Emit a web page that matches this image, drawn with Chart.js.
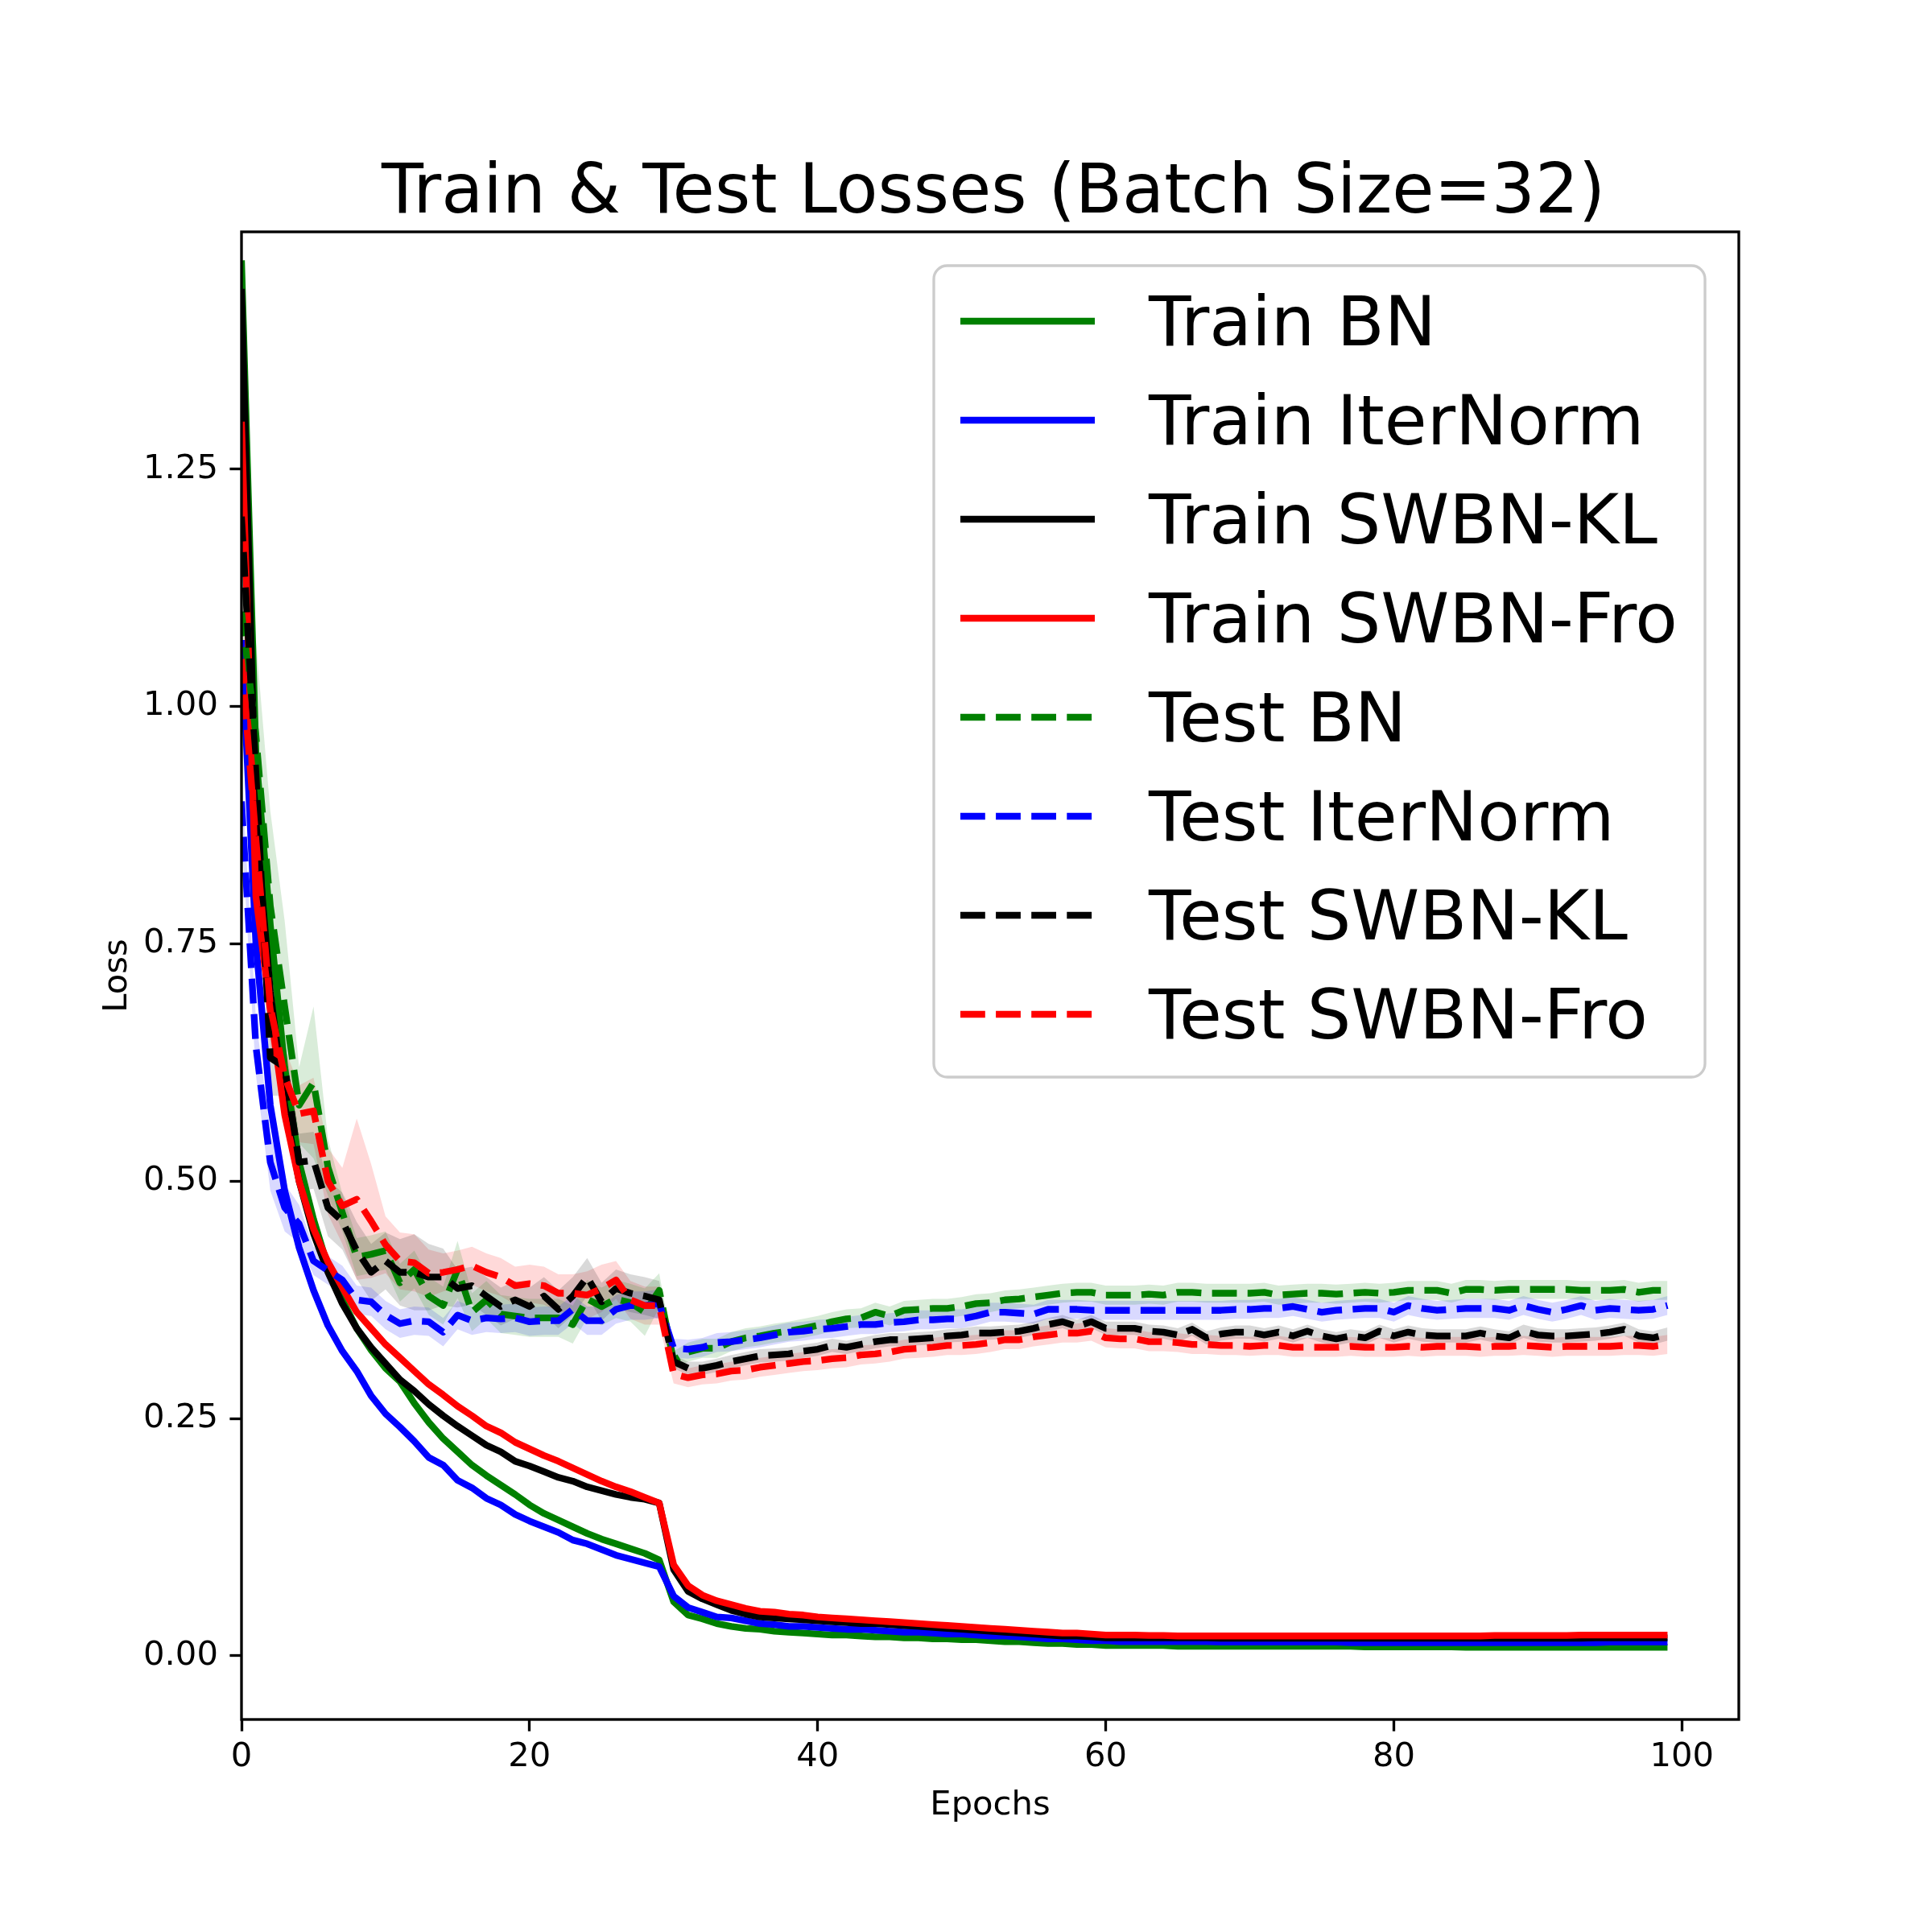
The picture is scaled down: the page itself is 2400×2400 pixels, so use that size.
<!DOCTYPE html>
<html lang="en">
<head>
  <meta charset="UTF-8">
  <title>Train & Test Losses</title>
  <script src="https://cdn.jsdelivr.net/npm/chart.js@4/dist/chart.umd.min.js"></script>
  <style>
    html, body { margin: 0; padding: 0; background: #fff; }
    canvas { display: block; }
  </style>
</head>
<body>
  <canvas id="grafico" width="2400" height="2400" style="width:2400px;height:2400px"></canvas>

  <script>
    // epochs 0..99
    const epochs = Array.from({ length: 100 }, (_, i) => i);
    const xTicks = [0, 20, 40, 60, 80, 100];
    const yTicks = [0, 0.25, 0.5, 0.75, 1.0, 1.25];

    const trainBN = [
      1.47, 0.95, 0.77, 0.62, 0.52, 0.46, 0.41, 0.375, 0.345, 0.322,
      0.303, 0.289, 0.266, 0.246, 0.229, 0.215, 0.201, 0.19, 0.18, 0.17,
      0.159, 0.15, 0.143, 0.136, 0.129, 0.123, 0.118, 0.113, 0.108, 0.101,
      0.057, 0.043, 0.039, 0.034, 0.031, 0.029, 0.028, 0.026, 0.025, 0.024,
      0.023, 0.022, 0.022, 0.021, 0.020, 0.020, 0.019, 0.019, 0.018, 0.018,
      0.017, 0.017, 0.016, 0.015, 0.015, 0.014, 0.013, 0.013, 0.012, 0.012,
      0.011, 0.011, 0.011, 0.011, 0.011, 0.010, 0.010, 0.010, 0.010, 0.010,
      0.010, 0.010, 0.010, 0.010, 0.010, 0.010, 0.010, 0.010, 0.0095, 0.0095,
      0.0095, 0.0095, 0.0095, 0.0095, 0.0095, 0.009, 0.009, 0.009, 0.009, 0.009,
      0.009, 0.009, 0.009, 0.009, 0.009, 0.009, 0.009, 0.009, 0.009, 0.009
    ];
    const trainIterNorm = [
      1.07, 0.75, 0.58, 0.49, 0.43, 0.385, 0.348, 0.321, 0.30, 0.274,
      0.255, 0.241, 0.226, 0.209, 0.201, 0.185, 0.177, 0.166, 0.159, 0.149,
      0.142, 0.136, 0.13, 0.122, 0.118, 0.112, 0.106, 0.102, 0.098, 0.094,
      0.063, 0.051, 0.046, 0.041, 0.040, 0.037, 0.034, 0.033, 0.031, 0.031,
      0.030, 0.029, 0.028, 0.028, 0.027, 0.026, 0.025, 0.025, 0.024, 0.023,
      0.023, 0.022, 0.021, 0.021, 0.020, 0.019, 0.018, 0.018, 0.017, 0.016,
      0.016, 0.015, 0.015, 0.015, 0.015, 0.015, 0.015, 0.015, 0.0145, 0.0145,
      0.0145, 0.0145, 0.0145, 0.0145, 0.0145, 0.0145, 0.0145, 0.014, 0.014, 0.014,
      0.014, 0.014, 0.014, 0.014, 0.014, 0.014, 0.014, 0.014, 0.014, 0.014,
      0.014, 0.014, 0.014, 0.014, 0.014, 0.0145, 0.0145, 0.0145, 0.0145, 0.0145
    ];
    const trainSWBNKL = [
      1.44, 0.88, 0.70, 0.58, 0.50, 0.445, 0.404, 0.371, 0.345, 0.325,
      0.308, 0.291, 0.279, 0.265, 0.253, 0.242, 0.232, 0.222, 0.215, 0.205,
      0.20, 0.194, 0.188, 0.184, 0.178, 0.174, 0.17, 0.167, 0.165, 0.161,
      0.091, 0.068, 0.060, 0.054, 0.048, 0.044, 0.041, 0.040, 0.039, 0.038,
      0.037, 0.036, 0.035, 0.034, 0.034, 0.033, 0.032, 0.031, 0.030, 0.029,
      0.028, 0.027, 0.026, 0.025, 0.024, 0.023, 0.022, 0.021, 0.021, 0.020,
      0.019, 0.019, 0.019, 0.019, 0.019, 0.019, 0.019, 0.019, 0.0185, 0.0185,
      0.0185, 0.0185, 0.0185, 0.0185, 0.0185, 0.0185, 0.0185, 0.0185, 0.0185, 0.0185,
      0.0185, 0.0185, 0.0185, 0.0185, 0.0185, 0.0185, 0.0185, 0.0185, 0.0185, 0.0185,
      0.0185, 0.0185, 0.0185, 0.0185, 0.019, 0.019, 0.019, 0.019, 0.019, 0.019
    ];
    const trainSWBNFro = [
      1.30, 0.80, 0.68, 0.57, 0.50, 0.45, 0.415, 0.388, 0.362, 0.345,
      0.328, 0.314, 0.30, 0.286, 0.275, 0.263, 0.253, 0.242, 0.235, 0.225,
      0.218, 0.211, 0.205, 0.198, 0.191, 0.184, 0.178, 0.173, 0.167, 0.161,
      0.096, 0.074, 0.064, 0.058, 0.054, 0.050, 0.047, 0.046, 0.044, 0.043,
      0.041, 0.040, 0.039, 0.038, 0.037, 0.036, 0.035, 0.034, 0.033, 0.032,
      0.031, 0.030, 0.029, 0.028, 0.027, 0.026, 0.025, 0.024, 0.024, 0.023,
      0.022, 0.022, 0.022, 0.0215, 0.0215, 0.021, 0.021, 0.021, 0.021, 0.021,
      0.021, 0.021, 0.021, 0.021, 0.021, 0.021, 0.021, 0.021, 0.021, 0.021,
      0.021, 0.021, 0.021, 0.021, 0.021, 0.021, 0.021, 0.0215, 0.0215, 0.0215,
      0.0215, 0.0215, 0.0215, 0.022, 0.022, 0.022, 0.022, 0.022, 0.022, 0.022
    ];

    const testBN = [
      1.10, 0.97, 0.79, 0.684, 0.58, 0.604, 0.515, 0.467, 0.42, 0.423,
      0.427, 0.393, 0.407, 0.379, 0.369, 0.407, 0.362, 0.375, 0.36, 0.358,
      0.356, 0.356, 0.356, 0.349, 0.376, 0.368, 0.376, 0.372, 0.362, 0.385,
      0.311, 0.32, 0.324, 0.324, 0.331, 0.335, 0.337, 0.34, 0.342, 0.345,
      0.348, 0.352, 0.355, 0.356, 0.362, 0.358, 0.364, 0.365, 0.366, 0.366,
      0.368, 0.371, 0.372, 0.375, 0.376, 0.378, 0.380, 0.382, 0.383, 0.383,
      0.380, 0.380, 0.380, 0.381, 0.380, 0.383, 0.383, 0.382, 0.382, 0.382,
      0.382, 0.383, 0.380, 0.381, 0.382, 0.382, 0.381, 0.382, 0.383, 0.382,
      0.383, 0.385, 0.385, 0.385, 0.382, 0.386, 0.386, 0.385, 0.386, 0.386,
      0.386, 0.386, 0.386, 0.385, 0.385, 0.385, 0.386, 0.383, 0.385, 0.385
    ];
    const testIterNorm = [
      0.90, 0.642, 0.52, 0.472, 0.455, 0.416, 0.406, 0.396, 0.375, 0.373,
      0.359, 0.35, 0.353, 0.352, 0.341, 0.359, 0.353, 0.356, 0.355, 0.356,
      0.352, 0.353, 0.353, 0.365, 0.353, 0.353, 0.365, 0.369, 0.369, 0.371,
      0.324, 0.323, 0.325, 0.33, 0.331, 0.333, 0.335, 0.338, 0.341, 0.342,
      0.344, 0.345, 0.347, 0.349, 0.349, 0.351, 0.352, 0.354, 0.354, 0.355,
      0.355, 0.358, 0.362, 0.362, 0.361, 0.360, 0.365, 0.365, 0.365, 0.364,
      0.364, 0.364, 0.364, 0.364, 0.364, 0.364, 0.364, 0.364, 0.364, 0.365,
      0.365, 0.366, 0.366, 0.368, 0.365, 0.362, 0.364, 0.365, 0.366, 0.366,
      0.362, 0.369, 0.366, 0.364, 0.365, 0.366, 0.366, 0.366, 0.364, 0.369,
      0.365, 0.362, 0.365, 0.369, 0.364, 0.366, 0.365, 0.364, 0.365, 0.369
    ];
    const testSWBNKL = [
      1.20, 0.93, 0.63, 0.62, 0.52, 0.522, 0.472, 0.458, 0.427, 0.404,
      0.416, 0.404, 0.404, 0.399, 0.399, 0.387, 0.39, 0.379, 0.368, 0.375,
      0.368, 0.379, 0.365, 0.379, 0.399, 0.373, 0.387, 0.382, 0.379, 0.375,
      0.310, 0.303, 0.303, 0.306, 0.31, 0.313, 0.316, 0.317, 0.318, 0.321,
      0.323, 0.327, 0.325, 0.328, 0.331, 0.333, 0.333, 0.334, 0.335, 0.337,
      0.338, 0.34, 0.34, 0.341, 0.342, 0.345, 0.349, 0.352, 0.347, 0.352,
      0.345, 0.345, 0.345, 0.342, 0.341, 0.338, 0.344, 0.335, 0.339, 0.341,
      0.341, 0.338, 0.341, 0.337, 0.342, 0.337, 0.334, 0.337, 0.335, 0.342,
      0.337, 0.341, 0.338, 0.337, 0.337, 0.337, 0.34, 0.337, 0.335, 0.342,
      0.338, 0.337, 0.337, 0.338, 0.339, 0.341, 0.344, 0.337, 0.335, 0.339
    ];
    const testSWBNFro = [
      1.05, 0.86, 0.684, 0.61, 0.571, 0.574, 0.50, 0.474, 0.481, 0.458,
      0.433, 0.416, 0.414, 0.403, 0.404, 0.407, 0.411, 0.404, 0.399, 0.39,
      0.392, 0.39, 0.382, 0.382, 0.38, 0.387, 0.396, 0.375, 0.369, 0.369,
      0.297, 0.293, 0.296, 0.297, 0.30, 0.301, 0.304, 0.306, 0.308, 0.31,
      0.311, 0.313, 0.314, 0.317, 0.318, 0.32, 0.323, 0.324, 0.325, 0.327,
      0.327, 0.328, 0.33, 0.333, 0.333, 0.336, 0.338, 0.34, 0.34, 0.342,
      0.335, 0.334, 0.334, 0.331, 0.331, 0.33, 0.328, 0.328, 0.327, 0.327,
      0.326, 0.327, 0.327, 0.325, 0.325, 0.325, 0.325, 0.326, 0.325, 0.325,
      0.325, 0.326, 0.325, 0.326, 0.326, 0.326, 0.325, 0.326, 0.326, 0.327,
      0.326, 0.325, 0.326, 0.326, 0.326, 0.326, 0.327, 0.327, 0.326, 0.328
    ];

    // half width of the shaded spread around each test curve
    const spreadTestBN = [
      0.05, 0.10, 0.10, 0.09, 0.04, 0.08, 0.03, 0.02, 0.02, 0.02,
      0.02, 0.02, 0.02, 0.02, 0.02, 0.03, 0.02, 0.02, 0.02, 0.02,
      0.02, 0.02, 0.02, 0.02, 0.02, 0.02, 0.02, 0.02, 0.025, 0.018,
      0.01, 0.01, 0.01, 0.01, 0.01, 0.01, 0.01, 0.01, 0.01, 0.01,
      0.01, 0.01, 0.01, 0.01, 0.01, 0.01, 0.01, 0.01, 0.01, 0.01,
      0.01, 0.01, 0.01, 0.01, 0.01, 0.01, 0.01, 0.01, 0.01, 0.01,
      0.01, 0.01, 0.01, 0.01, 0.01, 0.01, 0.01, 0.01, 0.01, 0.01,
      0.01, 0.01, 0.01, 0.01, 0.01, 0.01, 0.01, 0.01, 0.01, 0.01,
      0.01, 0.01, 0.01, 0.01, 0.01, 0.01, 0.01, 0.01, 0.01, 0.01,
      0.01, 0.01, 0.01, 0.01, 0.01, 0.01, 0.01, 0.01, 0.01, 0.01
    ];
    const spreadTestIterNorm = [
      0.03, 0.03, 0.03, 0.025, 0.02, 0.015, 0.015, 0.015, 0.015, 0.015,
      0.015, 0.015, 0.015, 0.015, 0.015, 0.015, 0.015, 0.015, 0.015, 0.015,
      0.015, 0.015, 0.015, 0.015, 0.015, 0.015, 0.015, 0.015, 0.015, 0.015,
      0.01, 0.01, 0.01, 0.01, 0.01, 0.01, 0.01, 0.01, 0.01, 0.01,
      0.01, 0.01, 0.01, 0.01, 0.01, 0.01, 0.01, 0.01, 0.01, 0.01,
      0.01, 0.01, 0.01, 0.01, 0.01, 0.01, 0.01, 0.01, 0.01, 0.01,
      0.01, 0.01, 0.01, 0.01, 0.01, 0.01, 0.01, 0.01, 0.01, 0.01,
      0.01, 0.01, 0.01, 0.01, 0.01, 0.01, 0.01, 0.01, 0.01, 0.01,
      0.01, 0.01, 0.01, 0.01, 0.01, 0.01, 0.01, 0.01, 0.01, 0.01,
      0.01, 0.01, 0.01, 0.01, 0.01, 0.01, 0.01, 0.01, 0.01, 0.01
    ];
    const spreadTestSWBNKL = [
      0.04, 0.05, 0.04, 0.03, 0.03, 0.03, 0.03, 0.03, 0.03, 0.03,
      0.03, 0.035, 0.04, 0.035, 0.03, 0.02, 0.02, 0.02, 0.02, 0.02,
      0.02, 0.02, 0.02, 0.02, 0.02, 0.02, 0.02, 0.02, 0.02, 0.02,
      0.007, 0.007, 0.007, 0.007, 0.007, 0.007, 0.007, 0.007, 0.007, 0.007,
      0.007, 0.007, 0.007, 0.007, 0.007, 0.007, 0.007, 0.007, 0.007, 0.007,
      0.007, 0.007, 0.007, 0.007, 0.007, 0.007, 0.007, 0.007, 0.007, 0.007,
      0.007, 0.007, 0.007, 0.007, 0.007, 0.007, 0.007, 0.007, 0.007, 0.007,
      0.007, 0.007, 0.007, 0.007, 0.007, 0.007, 0.007, 0.007, 0.007, 0.007,
      0.007, 0.007, 0.007, 0.007, 0.007, 0.007, 0.007, 0.007, 0.007, 0.007,
      0.007, 0.007, 0.007, 0.007, 0.007, 0.007, 0.007, 0.007, 0.007, 0.007
    ];
    const spreadTestSWBNFro = [
      0.04, 0.04, 0.04, 0.03, 0.03, 0.035, 0.035, 0.04, 0.085, 0.06,
      0.03, 0.03, 0.03, 0.025, 0.02, 0.02, 0.02, 0.02, 0.02, 0.02,
      0.02, 0.02, 0.02, 0.02, 0.025, 0.025, 0.02, 0.02, 0.02, 0.02,
      0.01, 0.01, 0.01, 0.01, 0.01, 0.01, 0.01, 0.01, 0.01, 0.01,
      0.01, 0.01, 0.01, 0.01, 0.01, 0.01, 0.01, 0.01, 0.01, 0.01,
      0.01, 0.01, 0.01, 0.01, 0.01, 0.01, 0.01, 0.01, 0.01, 0.01,
      0.01, 0.01, 0.01, 0.01, 0.01, 0.01, 0.01, 0.01, 0.01, 0.01,
      0.01, 0.01, 0.01, 0.01, 0.01, 0.01, 0.01, 0.01, 0.01, 0.01,
      0.01, 0.01, 0.01, 0.01, 0.01, 0.01, 0.01, 0.01, 0.01, 0.01,
      0.01, 0.01, 0.01, 0.01, 0.01, 0.01, 0.01, 0.01, 0.01, 0.01
    ];

    const seriesNames = ['Train BN', 'Train IterNorm', 'Train SWBN-KL', 'Train SWBN-Fro',
                         'Test BN', 'Test IterNorm', 'Test SWBN-KL', 'Test SWBN-Fro'];
    const seriesValues = [trainBN, trainIterNorm, trainSWBNKL, trainSWBNFro,
                          testBN, testIterNorm, testSWBNKL, testSWBNFro];
    const seriesColors = ['#008000', '#0000ff', '#000000', '#ff0000',
                          '#008000', '#0000ff', '#000000', '#ff0000'];
    const bandColors = ['rgba(0,128,0,0.15)', 'rgba(0,0,255,0.15)', 'rgba(0,0,0,0.15)', 'rgba(255,0,0,0.15)'];
    const testSpreads = [spreadTestBN, spreadTestIterNorm, spreadTestSWBNKL, spreadTestSWBNFro];

    const FONT = 'DejaVu Sans';
    const LW = 8.33;             // 2pt at 300 dpi
    const DASH = [30.8, 13.3];   // matplotlib '--' scaled by linewidth
    const pts = arr => arr.map((v, i) => ({ x: epochs[i], y: v }));

    const datasets = [];
    // shaded spreads under all lines
    testSpreads.forEach((sp, k) => {
      const mean = seriesValues[4 + k];
      const band = { pointRadius: 0, borderWidth: 0, borderColor: 'rgba(0,0,0,0)', tension: 0, order: 200 + k };
      datasets.push({ ...band, data: pts(mean.map((v, i) => v + sp[i])), fill: '+1', backgroundColor: bandColors[k] });
      datasets.push({ ...band, data: pts(mean.map((v, i) => v - sp[i])), fill: false });
    });
    seriesNames.forEach((name, k) => {
      datasets.push({
        label: name,
        data: pts(seriesValues[k]),
        borderColor: seriesColors[k],
        borderWidth: LW,
        borderDash: k >= 4 ? DASH : [],
        borderCapStyle: 'butt',
        borderJoinStyle: 'round',
        pointRadius: 0,
        tension: 0,
        fill: false,
        order: 50 - k
      });
    });

    const decor = {
      id: 'decor',
      afterDatasetsDraw(chart) {
        const { ctx, chartArea: a } = chart;
        ctx.save();
        ctx.strokeStyle = '#000';
        ctx.lineWidth = 3.33;
        ctx.setLineDash([]);
        ctx.strokeRect(a.left, a.top, a.right - a.left, a.bottom - a.top);
        ctx.restore();
      },
      afterDraw(chart) {
        const { ctx, chartArea: a } = chart;
        const cx = (a.left + a.right) / 2;
        ctx.save();
        ctx.fillStyle = '#000';
        // title
        ctx.font = `85px "${FONT}"`;
        ctx.textAlign = 'center';
        ctx.textBaseline = 'alphabetic';
        ctx.fillText('Train & Test Losses (Batch Size=32)', cx + 4, 264);
        // axis labels
        ctx.font = `41.7px "${FONT}"`;
        ctx.fillText('Epochs', cx, 2254);
        ctx.save();
        ctx.translate(157, (a.top + a.bottom) / 2);
        ctx.rotate(-Math.PI / 2);
        ctx.fillText('Loss', 0, 0);
        ctx.restore();

        // legend, upper right
        const L = 1160, T = 330, R = 2118, B = 1338;
        ctx.beginPath();
        ctx.roundRect(L, T, R - L, B - T, 16.7);
        ctx.fillStyle = 'rgba(255,255,255,0.8)';
        ctx.fill();
        ctx.strokeStyle = '#cccccc';
        ctx.lineWidth = 3.33;
        ctx.stroke();

        ctx.font = `86px "${FONT}"`;
        ctx.textAlign = 'left';
        seriesNames.forEach((name, k) => {
          const y = 399 + 123 * k;
          ctx.beginPath();
          ctx.strokeStyle = seriesColors[k];
          ctx.lineWidth = LW;
          ctx.lineCap = 'butt';
          ctx.setLineDash(k >= 4 ? DASH : []);
          ctx.moveTo(1193, y);
          ctx.lineTo(1360, y);
          ctx.stroke();
          ctx.setLineDash([]);
          ctx.fillStyle = '#000';
          ctx.fillText(name, 1427, y + 30);
        });
        ctx.restore();
      }
    };

    const tickFont = { family: FONT, size: 41.7 };

    new Chart(document.getElementById('grafico'), {
      type: 'line',
      data: { datasets },
      options: {
        responsive: false,
        devicePixelRatio: 1,
        animation: false,
        layout: { padding: { left: 0, top: 288, right: 240, bottom: 0 } },
        plugins: {
          legend: { display: false },
          tooltip: { enabled: false },
          title: { display: false }
        },
        scales: {
          x: {
            type: 'linear',
            min: 0,
            max: 103.95,
            afterBuildTicks: s => { s.ticks = xTicks.map(v => ({ value: v })); },
            afterFit: s => { s.height = 264; },
            ticks: { font: tickFont, color: '#000', padding: 8, maxRotation: 0, autoSkip: false,
                     callback: v => String(v) },
            grid: { drawOnChartArea: false, drawTicks: true, tickLength: 14.6, tickWidth: 3.33, tickColor: '#000' },
            border: { display: false }
          },
          y: {
            type: 'linear',
            min: -0.067,
            max: 1.5,
            afterBuildTicks: s => { s.ticks = yTicks.map(v => ({ value: v })); },
            afterFit: s => { s.width = 300; },
            ticks: { font: tickFont, color: '#000', padding: 14.5, autoSkip: false,
                     callback: v => Number(v).toFixed(2) },
            grid: { drawOnChartArea: false, drawTicks: true, tickLength: 14.6, tickWidth: 3.33, tickColor: '#000' },
            border: { display: false }
          }
        }
      },
      plugins: [decor]
    });
  </script>
</body>
</html>
